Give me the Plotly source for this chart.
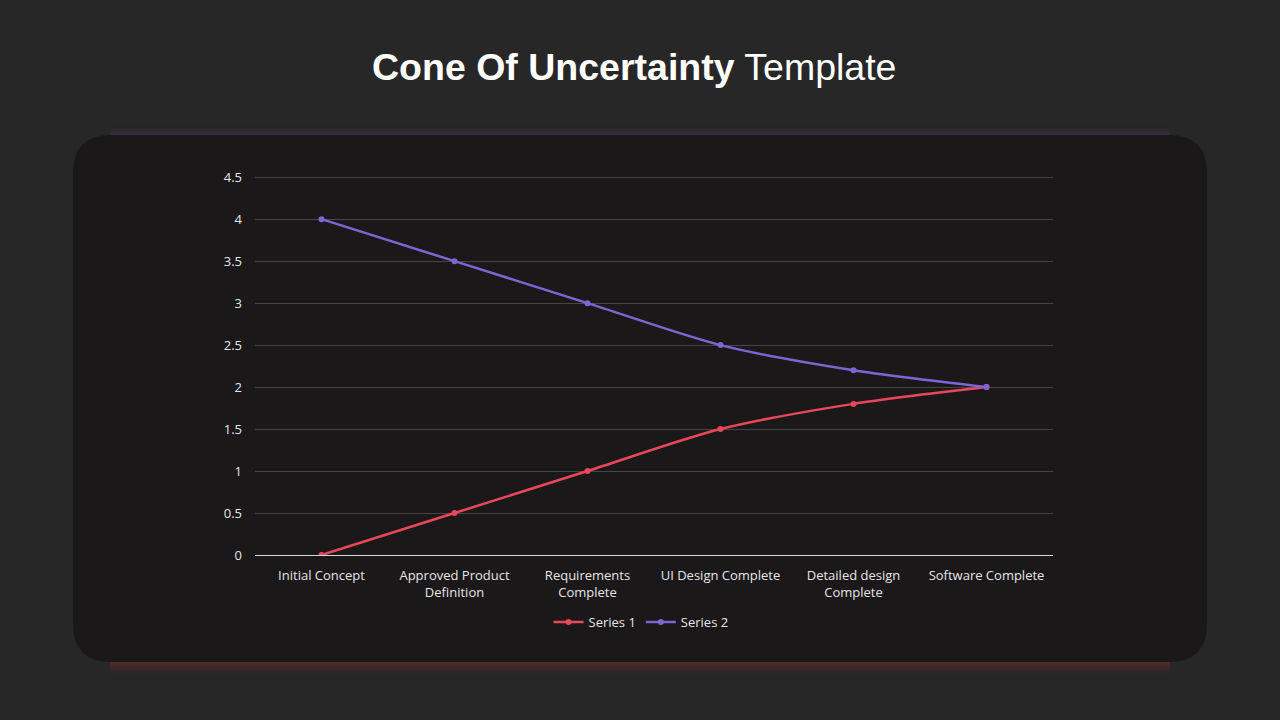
import plotly.graph_objects as go

categories = ["Initial Concept", "Approved Product<br>Definition", "Requirements<br>Complete",
              "UI Design Complete", "Detailed design<br>Complete", "Software Complete"]
series1 = [0, 0.5, 1, 1.5, 1.8, 2]
series2 = [4, 3.5, 3, 2.5, 2.2, 2]
y_ticks = [0, 0.5, 1, 1.5, 2, 2.5, 3, 3.5, 4, 4.5]
y_tick_labels = ["0", "0.5", "1", "1.5", "2", "2.5", "3", "3.5", "4", "4.5"]

W, H = 1280, 720
L, R, T, B = 255, 1053, 173, 555

def px(x):
    return (x - L) / (R - L)

def py(y):
    return (B - y) / (B - T)

fig = go.Figure()
fig.add_trace(go.Scatter(x=categories, y=series1, name="Series 1", mode="lines+markers",
                         line=dict(color="#e8485a", width=2.5, shape="spline", smoothing=0.8),
                         marker=dict(size=6, color="#e8485a")))
fig.add_trace(go.Scatter(x=categories, y=series2, name="Series 2", mode="lines+markers",
                         line=dict(color="#7b66d4", width=2.5, shape="spline", smoothing=0.8),
                         marker=dict(size=6, color="#7b66d4")))

shapes = []
# glows
for i in range(8):
    op = 0.06 * (1 - i / 8)
    shapes.append(dict(type="rect", xref="paper", yref="paper", layer="below",
                       x0=px(110), x1=px(1170), y0=py(136), y1=py(136 - i * 1.2 - 1),
                       fillcolor="rgba(110,90,190,%.3f)" % op, line=dict(width=0)))
    shapes.append(dict(type="rect", xref="paper", yref="paper", layer="below",
                       x0=px(110), x1=px(1170), y0=py(661), y1=py(661 + i * 2 + 2),
                       fillcolor="rgba(200,50,60,%.3f)" % (op * 1.4), line=dict(width=0)))

# rounded panel
x0, x1, y0, y1, r = 73, 1207, 135, 662, 38
path = (f"M {px(x0 + r)} {py(y0)} L {px(x1 - r)} {py(y0)} "
        f"Q {px(x1)} {py(y0)} {px(x1)} {py(y0 + r)} L {px(x1)} {py(y1 - r)} "
        f"Q {px(x1)} {py(y1)} {px(x1 - r)} {py(y1)} L {px(x0 + r)} {py(y1)} "
        f"Q {px(x0)} {py(y1)} {px(x0)} {py(y1 - r)} L {px(x0)} {py(y0 + r)} "
        f"Q {px(x0)} {py(y0)} {px(x0 + r)} {py(y0)} Z")
shapes.append(dict(type="path", xref="paper", yref="paper", layer="below", path=path,
                   fillcolor="#1a1819", line=dict(width=0)))

fig.update_layout(
    width=W, height=H,
    paper_bgcolor="#272727", plot_bgcolor="rgba(0,0,0,0)",
    margin=dict(l=L, r=W - R, t=T, b=H - B, pad=0),
    font=dict(family="Open Sans", color="#e6e6e6", size=13),
    shapes=shapes,
    showlegend=True,
    legend=dict(orientation="h", x=px(641), xanchor="center", y=py(622), yanchor="middle",
                font=dict(size=13, color="#e6e6e6"), bgcolor="rgba(0,0,0,0)",
                itemwidth=30, tracegroupgap=0),
    annotations=[dict(text="<b>Cone Of Uncertainty</b> Template", xref="paper", yref="paper",
                      x=px(634), y=py(67), xanchor="center", yanchor="middle", showarrow=False,
                      font=dict(family="Liberation Sans", size=37.5, color="#ffffff"))],
    xaxis=dict(range=[-0.5, 5.5], showgrid=False, zeroline=False, showline=False,
               ticks="", ticklabelstandoff=11, tickfont=dict(size=13, color="#e6e6e6"),
               fixedrange=True),
    yaxis=dict(range=[0, 4.55], tickvals=y_ticks, ticktext=y_tick_labels,
               showgrid=True, gridcolor="#464446", gridwidth=1,
               zeroline=True, zerolinecolor="#d9d9d9", zerolinewidth=1,
               showline=False, ticks="", ticklabelstandoff=12,
               tickfont=dict(size=13, color="#e6e6e6"), fixedrange=True),
)

fig.write_html("out.html", config={"displayModeBar": False},
               post_script="document.body.style.margin='0';document.body.style.background='#272727';")
